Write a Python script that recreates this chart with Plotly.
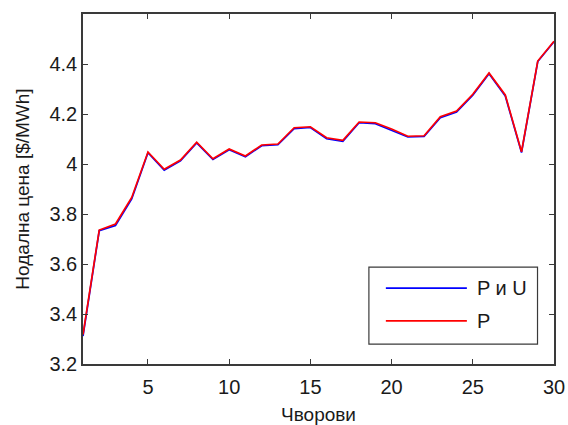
import plotly.graph_objects as go

nodes = list(range(1, 31))
price_p = [3.318, 3.736, 3.760, 3.866, 4.048, 3.979, 4.016, 4.087, 4.021, 4.060,
           4.032, 4.076, 4.080, 4.145, 4.149, 4.105, 4.095, 4.168, 4.165, 4.140,
           4.111, 4.113, 4.189, 4.212, 4.279, 4.364, 4.276, 4.049, 4.412, 4.491]
price_pu = [3.312, 3.733, 3.754, 3.860, 4.045, 3.975, 4.013, 4.084, 4.018, 4.057,
            4.029, 4.073, 4.077, 4.141, 4.146, 4.101, 4.091, 4.165, 4.161, 4.136,
            4.108, 4.110, 4.185, 4.208, 4.275, 4.361, 4.272, 4.046, 4.410, 4.489]
series_names = ["P и U", "P"]
series_colors = ["#0000ff", "#ff0000"]

x_ticks = [5, 10, 15, 20, 25, 30]
y_ticks = [3.2, 3.4, 3.6, 3.8, 4.0, 4.2, 4.4]
y_labels = ["3.2", "3.4", "3.6", "3.8", "4", "4.2", "4.4"]

FONT = "Liberation Sans, Arial, sans-serif"
TXT = "#1a1a1a"

fig = go.Figure()
for vals, name, col in zip([price_pu, price_p], series_names, series_colors):
    fig.add_trace(go.Scatter(x=nodes, y=vals, mode="lines", name=name,
                             line=dict(color=col, width=1.7), showlegend=False))

axis_common = dict(showgrid=False, zeroline=False, showline=True, linecolor="#3a3a3a",
                   linewidth=1.5, mirror="ticks", ticks="inside", ticklen=5,
                   tickcolor="#3a3a3a", tickwidth=1, automargin=False,
                   tickfont=dict(family=FONT, size=20, color=TXT))

fig.update_layout(
    width=568, height=425,
    margin=dict(l=83, r=14, t=14, b=61),
    paper_bgcolor="white", plot_bgcolor="white",
    font=dict(family=FONT, size=20, color=TXT),
    xaxis=dict(range=[1, 30], tickvals=x_ticks, ticklabelstandoff=4,
               title=dict(text="Чворови", font=dict(size=19), standoff=14),
               **axis_common),
    yaxis=dict(range=[3.2, 4.6], tickvals=y_ticks, ticktext=y_labels,
               title=dict(text="Нодална цена [$/MWh]", font=dict(size=19), standoff=15),
               **axis_common),
    showlegend=False,
)

# legend box drawn in the MATLAB style (long sample lines)
lx0, lx1, ly0, ly1 = 0.607, 0.965, 0.057, 0.277
fig.add_shape(type="rect", xref="paper", yref="paper", x0=lx0, x1=lx1, y0=ly0, y1=ly1,
              line=dict(color="#3a3a3a", width=1.2), fillcolor="white", layer="above")
row_y = [0.217, 0.123]
for name, col, ry in zip(series_names, series_colors, row_y):
    fig.add_shape(type="line", xref="paper", yref="paper", x0=0.643, x1=0.815, y0=ry, y1=ry,
                  line=dict(color=col, width=1.7), layer="above")
    fig.add_annotation(xref="paper", yref="paper", x=0.833, y=ry, text=name, showarrow=False,
                       xanchor="left", yanchor="middle",
                       font=dict(family=FONT, size=20, color=TXT))

fig.write_html("out.html")
